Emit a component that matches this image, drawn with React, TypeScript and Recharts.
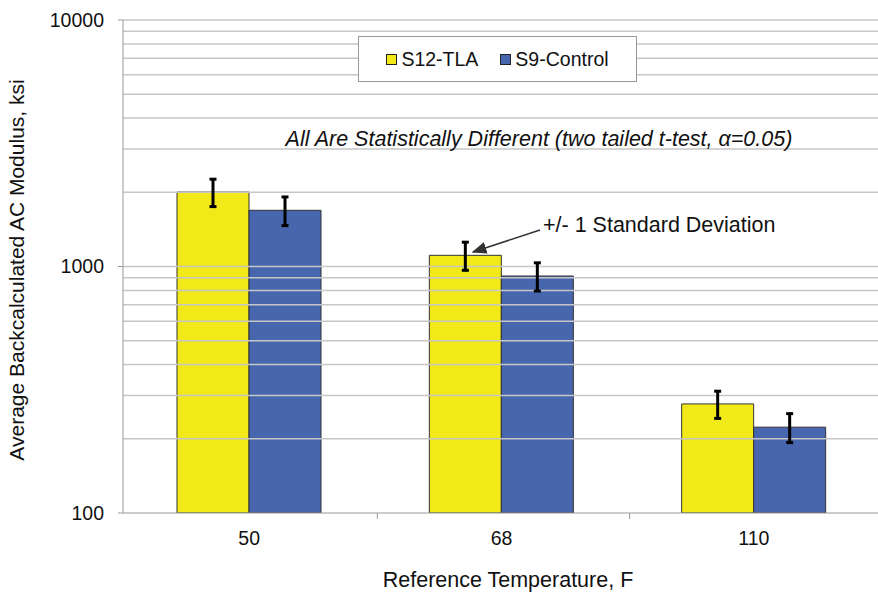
import { BarChart, Bar, XAxis, YAxis, ErrorBar, ReferenceLine } from "recharts";

const categories = ["50", "68", "110"];
const tlaValues = [2005, 1110, 277];
const controlValues = [1690, 915, 223];
const tlaStd = [255, 145, 35];
const controlStd = [225, 120, 30];
const yTicks = [100, 1000, 10000];
const gridValues = [
  200, 300, 400, 500, 600, 700, 800, 900, 1000,
  2000, 3000, 4000, 5000, 6000, 7000, 8000, 9000, 10000,
];
const seriesNames = ["S12-TLA", "S9-Control"];
const COLORS = ["#F2EA18", "#4766AE"];

const FONT = '"Liberation Sans", Arial, sans-serif';

const data = categories.map((c, i) => ({
  temp: c,
  tla: tlaValues[i],
  tlaErr: tlaStd[i],
  control: controlValues[i],
  controlErr: controlStd[i],
}));

function XTick(props: any) {
  const { x, y, payload, index } = props;
  const off = payload.offset || 0;
  return (
    <g>
      {index < categories.length - 1 && (
        <line x1={x + off + 2} x2={x + off + 2} y1={y - 8} y2={y - 2} stroke="#999" />
      )}
      <text x={x} y={y + 24} textAnchor="middle" fontSize={19.5} fill="#111" fontFamily={FONT}>
        {payload.value}
      </text>
    </g>
  );
}

export default function App() {
  return (
    <div style={{ position: "fixed", left: 0, top: 0, width: 878, height: 594, overflow: "hidden", background: "#fff" }}>
      <BarChart
        width={880}
        height={594}
        data={data}
        margin={{ top: 20, right: 0, bottom: 0, left: 0 }}
        barGap={0}
        barCategoryGap={54}
      >
        {gridValues.map((v) => (
          <ReferenceLine key={v} y={v} stroke="#c6c6c6" strokeWidth={1.5} ifOverflow="visible" />
        ))}
        <XAxis
          dataKey="temp"
          height={81}
          axisLine={{ stroke: "#999" }}
          tickLine={false}
          tick={<XTick />}
          interval={0}
        />
        <YAxis
          scale="log"
          domain={[100, 10000]}
          ticks={yTicks}
          allowDataOverflow
          width={123}
          axisLine={{ stroke: "#999" }}
          tickLine={{ stroke: "#999" }}
          tickSize={5}
          tickMargin={14}
          tick={{ fontSize: 19.5, fill: "#111", fontFamily: FONT }}
        />
        <Bar dataKey="tla" fill={COLORS[0]} stroke="#333" strokeWidth={1} isAnimationActive={false}>
          <ErrorBar dataKey="tlaErr" width={3.5} strokeWidth={3} stroke="#000" />
        </Bar>
        <Bar dataKey="control" fill={COLORS[1]} stroke="#333" strokeWidth={1} isAnimationActive={false}>
          <ErrorBar dataKey="controlErr" width={3.5} strokeWidth={3} stroke="#000" />
        </Bar>
      </BarChart>

      <div
        style={{
          position: "absolute",
          left: 358,
          top: 36,
          width: 277,
          height: 44,
          border: "1px solid #999",
          background: "#fff",
          display: "flex",
          alignItems: "center",
          justifyContent: "center",
          gap: 22,
          fontFamily: FONT,
          fontSize: 19.5,
          color: "#111",
        }}
      >
        {seriesNames.map((n, i) => (
          <span key={n} style={{ display: "flex", alignItems: "center" }}>
            <span
              style={{
                display: "inline-block",
                width: 9,
                height: 9,
                background: COLORS[i],
                border: "1px solid #222",
                marginRight: 4,
              }}
            />
            {n}
          </span>
        ))}
      </div>

      <svg
        width={878}
        height={594}
        style={{ position: "absolute", left: 0, top: 0, pointerEvents: "none" }}
        fontFamily={FONT}
      >
        <defs>
          <marker id="arr" markerWidth="10" markerHeight="8" refX="9" refY="4" orient="auto">
            <path d="M0,0 L10,4 L0,8 z" fill="#333" />
          </marker>
        </defs>
        <text x={539} y={146} textAnchor="middle" fontSize={21.5} fontStyle="italic" fill="#111">
          All Are Statistically Different (two tailed t-test, α=0.05)
        </text>
        <text x={543} y={232} fontSize={21.5} fill="#111">
          +/- 1 Standard Deviation
        </text>
        <line x1={540} y1={230} x2={473} y2={252} stroke="#333" strokeWidth={1.5} markerEnd="url(#arr)" />
        <text
          x={24}
          y={270}
          transform="rotate(-90 24 270)"
          textAnchor="middle"
          fontSize={21}
          fill="#111"
        >
          Average Backcalculated AC Modulus, ksi
        </text>
        <text x={508} y={587} textAnchor="middle" fontSize={21.5} fill="#111">
          Reference Temperature, F
        </text>
      </svg>
    </div>
  );
}
